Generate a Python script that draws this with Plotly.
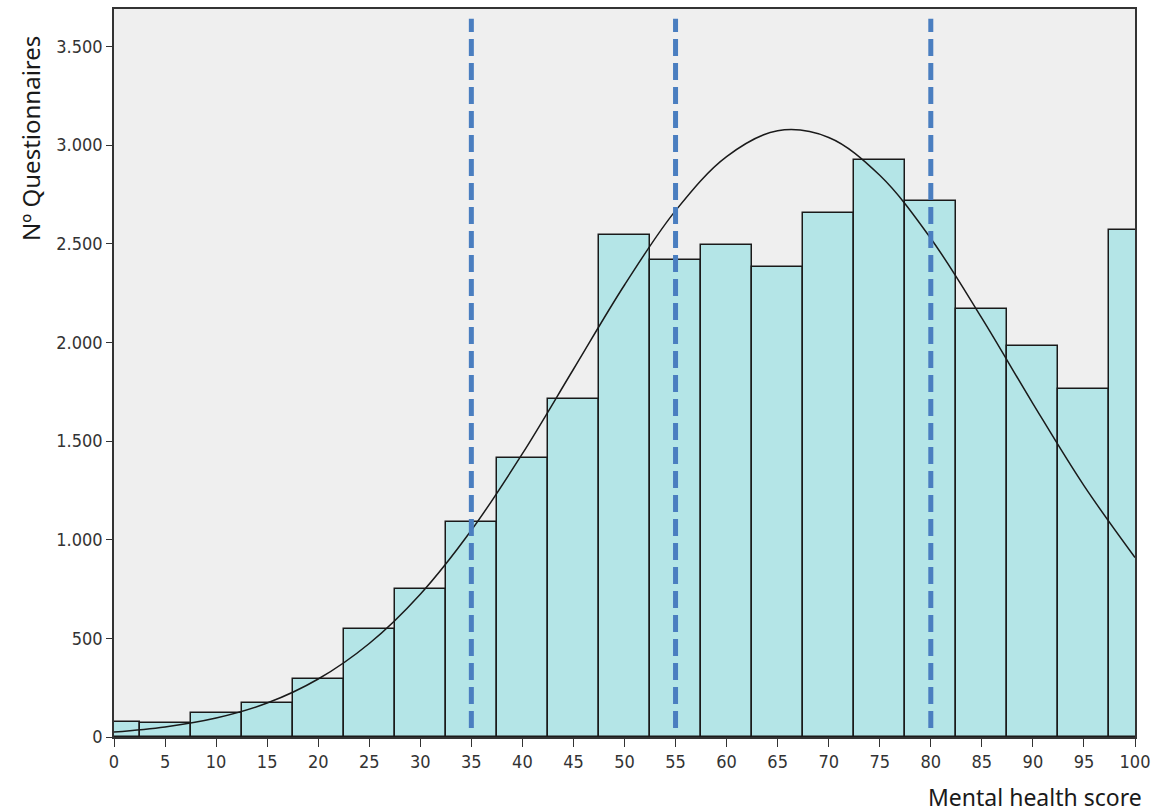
import plotly.graph_objects as go

# Histogram bins (centres) and counts
bin_centers = [0, 5, 10, 15, 20, 25, 30, 35, 40, 45, 50, 55, 60, 65, 70, 75, 80, 85, 90, 95, 100]
counts = [77, 70, 123, 172, 293, 545, 752, 1092, 1414, 1712, 2542, 2416, 2493, 2380, 2655, 2926, 2716, 2170, 1982, 1765, 2568]

# Fitted normal curve
curve_x = [0, 5, 10, 15, 20, 25, 30, 35, 40, 45, 50, 55, 60, 65, 70, 75, 80, 85, 90, 95, 100]
curve_y = [25, 51, 96, 172, 294, 474, 724, 1048, 1436, 1864, 2291, 2668, 2942, 3073, 3039, 2847, 2527, 2123, 1690, 1274, 910]

# Cut-off markers
cutoffs = [35, 55, 80]
cutoff_range = [45, 3640]

x_ticks = list(range(0, 101, 5))
y_tickvals = [0, 500, 1000, 1500, 2000, 2500, 3000, 3500]
y_ticktext = ["0", "500", "1.000", "1.500", "2.000", "2.500", "3.000", "3.500"]

fig = go.Figure()
fig.add_trace(go.Bar(
    x=bin_centers, y=counts, width=5,
    marker=dict(color="#B4E5E7", line=dict(color="#1a1a1a", width=1.5)),
    showlegend=False,
))
fig.add_trace(go.Scatter(
    x=curve_x, y=curve_y, mode="lines", line=dict(color="#1a1a1a", width=1.5, shape="spline"),
    showlegend=False,
))
for c in cutoffs:
    fig.add_trace(go.Scatter(
        x=[c, c], y=cutoff_range, mode="lines",
        line=dict(color="#4A7EC0", width=5, dash="17px,7px"),
        showlegend=False,
    ))

tick_font = dict(family="Liberation Sans Narrow, DejaVu Sans Condensed, sans-serif", size=18, color="#333333")
fig.update_layout(
    width=1157, height=812, autosize=False,
    margin=dict(l=114, r=10, t=7, b=75),
    paper_bgcolor="white", plot_bgcolor="#EFEFEF",
    bargap=0,
    xaxis=dict(range=[0, 100], tickvals=x_ticks, ticks="outside", ticklen=8, tickcolor="#333",
               showgrid=False, zeroline=False, showline=True, linecolor="#333", linewidth=1.5,
               mirror=True, tickfont=tick_font, ticklabeloverflow="allow"),
    yaxis=dict(range=[0, 3690], tickvals=y_tickvals, ticktext=y_ticktext, ticks="outside",
               ticklen=6, tickcolor="#333", showgrid=False, zeroline=False, showline=True,
               linecolor="#333", linewidth=1.5, mirror=True, tickfont=tick_font),
    annotations=[
        dict(text="Nº Questionnaires", x=-0.0819, y=0.822, xref="paper", yref="paper",
             textangle=-90, showarrow=False, xanchor="center", yanchor="middle",
             font=dict(family="Noto Sans, sans-serif", size=24, color="#1a1a1a")),
        dict(text="Mental health score", x=1.0088, y=-0.082, xref="paper", yref="paper",
             showarrow=False, xanchor="right", yanchor="middle",
             font=dict(family="Noto Sans, sans-serif", size=23, color="#1a1a1a")),
    ],
)
fig.write_html(
    "out.html",
    config={"displayModeBar": False, "responsive": False},
    post_script=(
        "document.documentElement.style.overflow='hidden';"
        "document.body.style.margin='0';document.body.style.overflow='hidden';"
    ),
)
